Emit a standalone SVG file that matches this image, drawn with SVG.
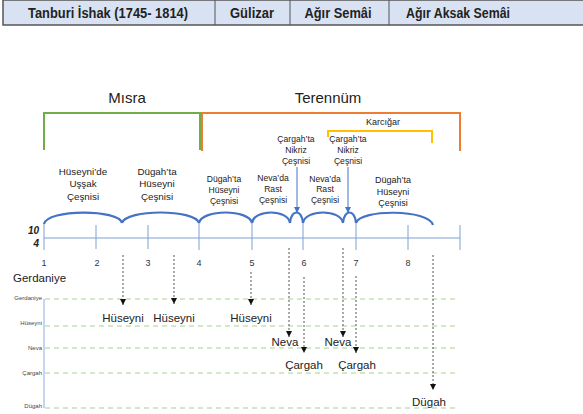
<svg xmlns="http://www.w3.org/2000/svg" width="583" height="414" viewBox="0 0 583 414">
<defs>
<style>
text{font-family:"Liberation Sans",Arial,sans-serif;fill:#222;}
.hdr{font-size:14px;font-weight:bold;text-anchor:middle;}
.ttl{font-size:15px;text-anchor:middle;}
.s10{font-size:9.8px;text-anchor:middle;}
.s9{font-size:8.6px;text-anchor:middle;}
.num{font-size:9px;text-anchor:middle;fill:#333;}
.lvl{font-size:11.5px;text-anchor:middle;}
.yl{font-size:6px;text-anchor:end;fill:#444;}
.arc{fill:none;stroke:#4472c4;stroke-width:2.2;}
.tick{stroke:#7f9fd6;stroke-width:1;}
.dot{stroke:#555;stroke-width:1;stroke-dasharray:2 2;fill:none;}
.grid{stroke:#a9d18e;stroke-width:1;stroke-dasharray:5 4;}
.blue{stroke:#4472c4;stroke-width:1;fill:none;}
</style>
<marker id="ah" viewBox="0 0 10 10" refX="10" refY="5" markerWidth="6" markerHeight="6" orient="auto" markerUnits="userSpaceOnUse"><path d="M0,0 L10,5 L0,10 Z" fill="#111"/></marker>
<marker id="bh" viewBox="0 0 10 10" refX="10" refY="5" markerWidth="6" markerHeight="6" orient="auto" markerUnits="userSpaceOnUse"><path d="M0,0 L10,5 L0,10 Z" fill="#4472c4"/></marker>
</defs>
<rect width="583" height="414" fill="#fff"/>

<g id="table">
<rect x="3" y="0" width="585" height="25" fill="#d9e2f3" stroke="#555" stroke-width="1.5"/>
<line x1="215" y1="0" x2="215" y2="25" stroke="#555" stroke-width="1"/>
<line x1="290" y1="0" x2="290" y2="25" stroke="#555" stroke-width="1"/>
<line x1="389" y1="0" x2="389" y2="25" stroke="#555" stroke-width="1"/>
<text class="hdr" x="108" y="18" textLength="160" lengthAdjust="spacingAndGlyphs">Tanburi İshak (1745- 1814)</text>
<text class="hdr" x="252" y="18" textLength="44" lengthAdjust="spacingAndGlyphs">Gülizar</text>
<text class="hdr" x="338" y="18" textLength="67" lengthAdjust="spacingAndGlyphs">Ağır Semâi</text>
<text class="hdr" x="458" y="18" textLength="104" lengthAdjust="spacingAndGlyphs">Ağır Aksak Semâi</text>
</g>

<g id="misra">
<text class="ttl" x="127" y="103">Mısra</text>
<path d="M44,150 V113 H200 V150" fill="none" stroke="#70ad47" stroke-width="2"/>
</g>
<g id="terennum">
<text class="ttl" x="328" y="103">Terennüm</text>
<path d="M202,151 V113 H460 V151" fill="none" stroke="#ed7d31" stroke-width="2"/>
</g>
<g id="karcigar">
<text x="383" y="125" style="font-size:9px;text-anchor:middle">Karcığar</text>
<path d="M328,137 V131 H432 V143" fill="none" stroke="#ffc000" stroke-width="2"/>
</g>

<g id="c1"><text class="s10" x="83" y="174.5">Hüseyni’de</text><text class="s10" x="83" y="187">Uşşak</text><text class="s10" x="83" y="199.5">Çeşnisi</text></g>
<g id="c2"><text class="s10" x="157" y="174.5">Dügah’ta</text><text class="s10" x="157" y="187">Hüseyni</text><text class="s10" x="157" y="199.5">Çeşnisi</text></g>
<g id="c3"><text class="s9" x="224" y="182">Dügah’ta</text><text class="s9" x="224" y="193">Hüseyni</text><text class="s9" x="224" y="204">Çeşnisi</text></g>
<g id="c4"><text class="s9" x="273" y="181">Neva’da</text><text class="s9" x="273" y="192">Rast</text><text class="s9" x="273" y="203">Çeşnisi</text></g>
<g id="c5"><text class="s9" x="296" y="142">Çargah’ta</text><text class="s9" x="296" y="153">Nikriz</text><text class="s9" x="296" y="164">Çeşnisi</text></g>
<g id="c6"><text class="s9" x="325" y="182">Neva’da</text><text class="s9" x="325" y="192">Rast</text><text class="s9" x="325" y="203">Çeşnisi</text></g>
<g id="c7"><text class="s9" x="348" y="142">Çargah’ta</text><text class="s9" x="348" y="153">Nikriz</text><text class="s9" x="348" y="164">Çeşnisi</text></g>
<g id="c8"><text x="393" y="183" style="font-size:9px;text-anchor:middle">Dügah’ta</text><text x="393" y="194.5" style="font-size:9px;text-anchor:middle">Hüseyni</text><text x="393" y="206" style="font-size:9px;text-anchor:middle">Çeşnisi</text></g>

<g id="axis">
<line class="tick" x1="44" y1="238" x2="460" y2="238"/>
<line class="tick" x1="44" y1="223" x2="44" y2="250"/>
<line class="tick" x1="96" y1="225" x2="96" y2="249"/>
<line class="tick" x1="148" y1="225" x2="148" y2="249"/>
<line class="tick" x1="199" y1="223" x2="199" y2="250"/>
<line class="tick" x1="252" y1="223" x2="252" y2="250"/>
<line class="tick" x1="303" y1="223" x2="303" y2="250"/>
<line class="tick" x1="356" y1="223" x2="356" y2="250"/>
<line class="tick" x1="408" y1="225" x2="408" y2="250"/>
<line class="tick" x1="460" y1="225" x2="460" y2="250"/>
<text class="num" x="44" y="266">1</text>
<text class="num" x="97" y="266">2</text>
<text class="num" x="148" y="266">3</text>
<text class="num" x="199" y="266">4</text>
<text class="num" x="252" y="266">5</text>
<text class="num" x="304" y="266">6</text>
<text class="num" x="356" y="266">7</text>
<text class="num" x="408" y="266">8</text>
<text x="39" y="234" style="font-size:10px;font-weight:bold;font-style:italic;text-anchor:end">10</text>
<text x="39" y="247" style="font-size:10px;font-weight:bold;font-style:italic;text-anchor:end">4</text>
</g>

<g id="arcs">
<path class="arc" d="M44,224 C47,209 119,209 122,223"/>
<path class="arc" d="M122,223 C126,209 195,209 199,223"/>
<path class="arc" d="M199,223 C202,209 249,209 252,223"/>
<path class="arc" d="M252,223 C254,209 288,209 290,223"/>
<path class="arc" d="M290,223 C291,209 302,209 303,223"/>
<path class="arc" d="M303,223 C305,209 341,209 343,223"/>
<path class="arc" d="M343,223 C344,209 355,209 356,223"/>
<path class="arc" d="M356,223 C360,209 429,209 433,225"/>
</g>

<g id="gerdaniye-label"><text x="13" y="282" style="font-size:11.5px">Gerdaniye</text></g>

<g id="levels">
<line x1="44" y1="299" x2="44" y2="408" stroke="#8faadc" stroke-width="1"/>
<line class="grid" x1="45" y1="299" x2="458" y2="299"/>
<line class="grid" x1="45" y1="326" x2="458" y2="326"/>
<line class="grid" x1="45" y1="348" x2="458" y2="348"/>
<line class="grid" x1="45" y1="373" x2="458" y2="373"/>
<line class="grid" x1="45" y1="408" x2="458" y2="408"/>
<text class="yl" x="42" y="300">Gerdaniye</text>
<text class="yl" x="42" y="325">Hüseyni</text>
<text class="yl" x="42" y="350">Neva</text>
<text class="yl" x="42" y="375">Çargah</text>
<text class="yl" x="42" y="408">Dügah</text>
</g>

<g id="notes">
<text class="lvl" x="123" y="322">Hüseyni</text>
<text class="lvl" x="174" y="322">Hüseyni</text>
<text class="lvl" x="251" y="322">Hüseyni</text>
<text class="lvl" x="285" y="346">Neva</text>
<text class="lvl" x="338" y="346">Neva</text>
<text class="lvl" x="304" y="369">Çargah</text>
<text class="lvl" x="357" y="369">Çargah</text>
<text class="lvl" x="429" y="406">Dügah</text>
</g>

<g id="connectors">
<line class="blue" x1="297" y1="167" x2="297" y2="213" marker-end="url(#bh)"/>
<line class="blue" x1="348" y1="167" x2="348" y2="213" marker-end="url(#bh)"/>
<line class="dot" x1="123" y1="255" x2="123" y2="305" marker-end="url(#ah)"/>
<line class="dot" x1="174" y1="255" x2="174" y2="304" marker-end="url(#ah)"/>
<line class="dot" x1="251" y1="272" x2="251" y2="305" marker-end="url(#ah)"/>
<line class="dot" x1="289" y1="248" x2="289" y2="337" marker-end="url(#ah)"/>
<line class="dot" x1="304" y1="277" x2="304" y2="353" marker-end="url(#ah)"/>
<line class="dot" x1="343" y1="248" x2="343" y2="337" marker-end="url(#ah)"/>
<line class="dot" x1="356" y1="276" x2="356" y2="353" marker-end="url(#ah)"/>
<line class="dot" x1="433" y1="255" x2="433" y2="390" marker-end="url(#ah)"/>
</g>
</svg>
